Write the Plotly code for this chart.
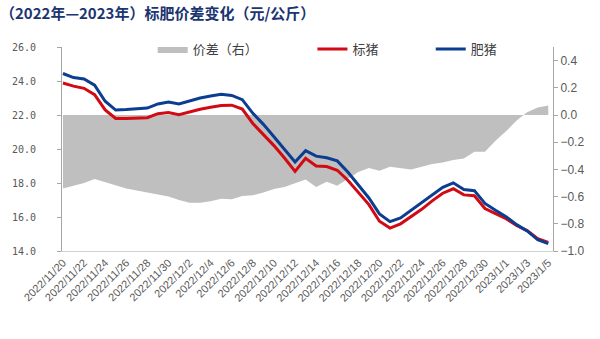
import plotly.graph_objects as go

dates = [
    "2022/11/20", "2022/11/21", "2022/11/22", "2022/11/23", "2022/11/24", "2022/11/25",
    "2022/11/26", "2022/11/27", "2022/11/28", "2022/11/29", "2022/11/30",
    "2022/12/1", "2022/12/2", "2022/12/3", "2022/12/4", "2022/12/5", "2022/12/6",
    "2022/12/7", "2022/12/8", "2022/12/9", "2022/12/10", "2022/12/11", "2022/12/12",
    "2022/12/13", "2022/12/14", "2022/12/15", "2022/12/16", "2022/12/17", "2022/12/18",
    "2022/12/19", "2022/12/20", "2022/12/21", "2022/12/22", "2022/12/23", "2022/12/24",
    "2022/12/25", "2022/12/26", "2022/12/27", "2022/12/28", "2022/12/29", "2022/12/30",
    "2022/12/31", "2023/1/1", "2023/1/2", "2023/1/3", "2023/1/4", "2023/1/5",
]

# 标猪 (standard hog), 元/公斤
biaozhu = [23.88, 23.70, 23.57, 23.20, 22.30, 21.80, 21.80, 21.81, 21.84, 22.08, 22.14,
           22.02, 22.18, 22.34, 22.45, 22.56, 22.58, 22.35, 21.50, 20.88, 20.20, 19.47,
           18.68, 19.45, 19.00, 18.97, 18.75, 18.16, 17.45, 16.73, 15.75, 15.35, 15.60,
           16.00, 16.45, 16.95, 17.40, 17.66, 17.30, 17.25, 16.50, 16.20, 15.90, 15.50,
           15.20, 14.72, 14.50]

# 肥猪 (fat hog), 元/公斤
feizhu = [24.44, 24.20, 24.12, 23.76, 22.81, 22.29, 22.32, 22.36, 22.41, 22.65, 22.76,
          22.65, 22.82, 23.00, 23.12, 23.22, 23.15, 22.90, 22.10, 21.45, 20.72, 19.98,
          19.24, 19.90, 19.58, 19.48, 19.30, 18.65, 17.89, 17.12, 16.18, 15.73, 15.95,
          16.40, 16.86, 17.32, 17.75, 18.01, 17.62, 17.55, 16.80, 16.40, 16.02, 15.55,
          15.18, 14.66, 14.43]

# 价差 (right axis)
jiacha = [-0.54, -0.52, -0.50, -0.47, -0.495, -0.52, -0.54, -0.555, -0.57, -0.58, -0.60,
          -0.625, -0.645, -0.645, -0.635, -0.615, -0.62, -0.595, -0.59, -0.57, -0.545, -0.53,
          -0.505, -0.475, -0.53, -0.49, -0.52, -0.47, -0.42, -0.39, -0.41, -0.38, -0.39,
          -0.40, -0.38, -0.36, -0.35, -0.33, -0.32, -0.27, -0.27, -0.19, -0.12, -0.04,
          0.02, 0.055, 0.07]

tick_labels = dates[::2]

title_text = "（2022年—2023年）标肥价差变化（元/公斤）"

RED = "#D20A13"
BLUE = "#0B3D91"
GRAY = "#BFBFBF"
AX = "#A6A6A6"
TXT = "#595959"
CJK = "Noto Sans CJK SC"

fig = go.Figure()

fig.add_trace(go.Scatter(
    x=dates, y=jiacha, name="价差（右）", yaxis="y", mode="lines",
    line=dict(width=0, color=GRAY), fill="tozeroy", fillcolor=GRAY,
    legend="legend", hoverinfo="skip",
))
fig.add_trace(go.Scatter(
    x=dates, y=biaozhu, name="标猪", yaxis="y2", mode="lines",
    line=dict(width=3, color=RED), legend="legend2",
))
fig.add_trace(go.Scatter(
    x=dates, y=feizhu, name="肥猪", yaxis="y2", mode="lines",
    line=dict(width=3, color=BLUE), legend="legend3",
))

legend_common = dict(
    orientation="h", yanchor="middle", xanchor="left",
    font=dict(family=CJK, size=13, color="#404040"),
    bgcolor="rgba(0,0,0,0)", borderwidth=0,
)

fig.update_layout(
    width=600, height=339,
    margin=dict(l=55, r=47, t=47, b=88, pad=0),
    paper_bgcolor="white", plot_bgcolor="white",
    showlegend=True,
    title=dict(
        text=title_text, x=0.0, xanchor="left", xref="container",
        y=1 - 14 / 339, yanchor="middle", yref="container",
        font=dict(family=CJK, size=15, color="#1A3570", weight="bold"),
    ),
    xaxis=dict(
        type="category", range=[-0.09, 46.45],
        tickmode="array", tickvals=tick_labels, ticktext=tick_labels,
        tickangle=-45, tickfont=dict(family="Liberation Sans", size=11, color=TXT),
        showline=True, linecolor="#D0D0D0", linewidth=1,
        ticks="", showgrid=False, zeroline=False,
    ),
    yaxis=dict(
        side="right", range=[-1.0, 0.5], tick0=-1.0, dtick=0.2, tickformat=".1f",
        showline=True, linecolor=AX, linewidth=1,
        ticks="outside", ticklen=4, tickcolor=AX,
        tickfont=dict(family="Liberation Sans", size=12, color=TXT),
        showgrid=False, zeroline=False,
    ),
    yaxis2=dict(
        side="left", overlaying="y", range=[14, 26], dtick=2, tickformat=".1f",
        showline=True, linecolor=AX, linewidth=1,
        ticks="outside", ticklen=4, tickcolor=AX, ticklabelstandoff=19,
        tickfont=dict(family="DejaVu Sans Mono", size=10, color=TXT),
        showgrid=False, zeroline=False,
    ),
    legend=dict(x=(147 - 55) / 498, y=0.99, **legend_common),
    legend2=dict(x=(309 - 55) / 498, y=0.99, **legend_common),
    legend3=dict(x=(429 - 55) / 498, y=0.99, **legend_common),
)

fig.write_html("out.html")
